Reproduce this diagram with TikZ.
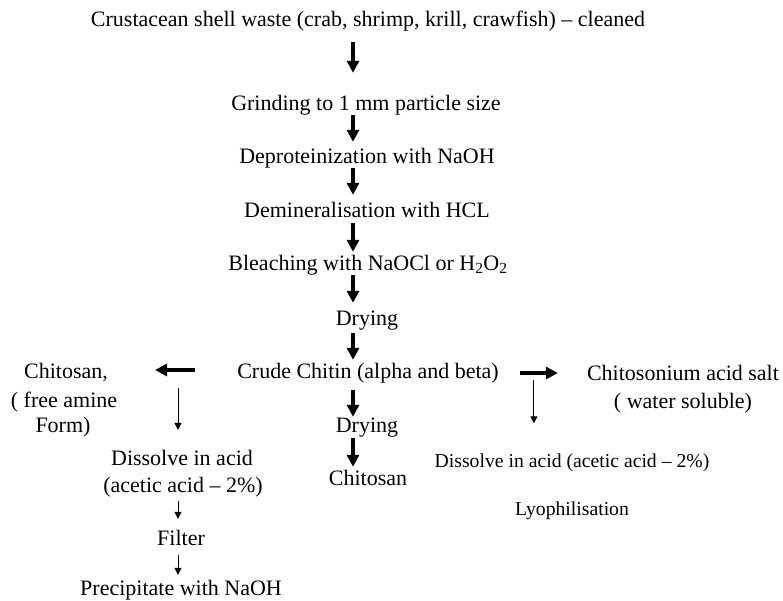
\documentclass[tikz,border=0pt]{standalone}
\usepackage{fontspec}
\setmainfont{Liberation Serif}
\usetikzlibrary{arrows.meta,calc}
\tikzset{
  lbl/.style={anchor=base, inner sep=0pt, text height=15pt, text depth=5pt,
    font=\fontsize{22}{27}\selectfont},
  lblsmall/.style={lbl, text height=13.5pt, text depth=4.5pt,
    font=\fontsize{19.7}{24}\selectfont},
  bigarrow/.style={line width=4pt, -{Triangle[width=12pt,length=12pt]}},
  thinarrow/.style={line width=1pt, -{Triangle[width=7pt,length=7pt]}},
}
\begin{document}
\begin{tikzpicture}[x=1pt,y=-1pt]
\useasboundingbox (0,0) rectangle (783,600);
\coordinate (axis) at (353,0);

% main processing column
\node[lbl] (shell)    at (368,26)  {Crustacean shell waste (crab, shrimp, krill, crawfish) \textendash{} cleaned};
\node[lbl] (grind)    at (366,110) {Grinding to 1 mm particle size};
\node[lbl] (deprot)   at (367,163) {Deproteinization with NaOH};
\node[lbl] (demin)    at (367,217) {Demineralisation with HCL};
\node[lbl] (bleach)   at (368,270) {Bleaching with NaOCl or H\textsubscript{2}O\textsubscript{2}};
\node[lbl] (dry1)     at (367,325) {Drying};
\node[lbl] (crude)    at (368,378) {Crude Chitin (alpha and beta)};
\node[lbl] (dry2)     at (367,432) {Drying};
\node[lbl] (chitosan) at (368,485) {Chitosan};

% left branch: free amine chitosan
\node[lbl] (freeA)  at (66,378)  {Chitosan,};
\node[lbl] (freeB)  at (64,407)  {( free amine};
\node[lbl] (freeC)  at (63,432)  {Form)};
\node[lbl] (dissA)  at (182,465) {Dissolve in acid};
\node[lbl] (dissB)  at (183,492) {(acetic acid \textendash{} 2\%)};
\node[lbl] (filter) at (181,545) {Filter};
\node[lbl] (precip) at (181,595) {Precipitate with NaOH};

% right branch: chitosonium salt
\node[lbl] (saltA) at (683,380) {Chitosonium acid salt};
\node[lbl] (saltB) at (683,408) {( water soluble)};
\node[lblsmall] (rdiss) at (572,467) {Dissolve in acid (acetic acid \textendash{} 2\%)};
\node[lblsmall] (lyo)   at (572,515) {Lyophilisation};

% main column arrows
\draw[bigarrow, shorten <=11pt, shorten >=22pt] (shell.south -| axis)  -- (grind.north -| axis);
\draw[bigarrow, shorten <=0pt,  shorten >=6pt]  (grind.south -| axis)  -- (deprot.north -| axis);
\draw[bigarrow, shorten <=0pt,  shorten >=7pt]  (deprot.south -| axis) -- (demin.north -| axis);
\draw[bigarrow, shorten <=1pt,  shorten >=3pt]  (demin.south -| axis)  -- (bleach.north -| axis);
\draw[bigarrow, shorten <=0pt,  shorten >=7pt]  (bleach.south -| axis) -- (dry1.north -| axis);
\draw[bigarrow, shorten <=3pt,  shorten >=3pt]  (dry1.south -| axis)   -- (crude.north -| axis);
\draw[bigarrow, shorten <=7pt,  shorten >=0pt]  (crude.south -| axis)  -- (dry2.north -| axis);
\draw[bigarrow, shorten <=1pt,  shorten >=3pt]  (dry2.south -| axis)   -- (chitosan.north -| axis);

% side branches
\draw[bigarrow, shorten <=42pt, shorten >=47pt] ($(crude.west)+(0,-3)$) -- ($(crude.west -| freeA.east)+(0,-3)$);
\draw[bigarrow, shorten <=21pt, shorten >=29pt] (crude.east) -- (crude.east -| saltA.west);

% left branch steps
\draw[thinarrow, shorten <=5pt, shorten >=20pt] ($(crude.south -| dissA.north)+(-4,0)$) -- ($(dissA.north)+(-4,0)$);
\draw[thinarrow, shorten <=4pt, shorten >=11pt] ($(dissB.south)+(-5,0)$) -- ($(dissB.south |- filter.north)+(-5,0)$);
\draw[thinarrow, shorten <=5pt, shorten >=5pt]  ($(filter.south)+(-3,0)$) -- ($(filter.south |- precip.north)+(-3,0)$);

% right branch step
\draw[thinarrow, shorten >=30pt] ($(crude.east)+(35,7)$) -- ($(crude.east |- rdiss.north)+(35,0)$);
\end{tikzpicture}
\end{document}
